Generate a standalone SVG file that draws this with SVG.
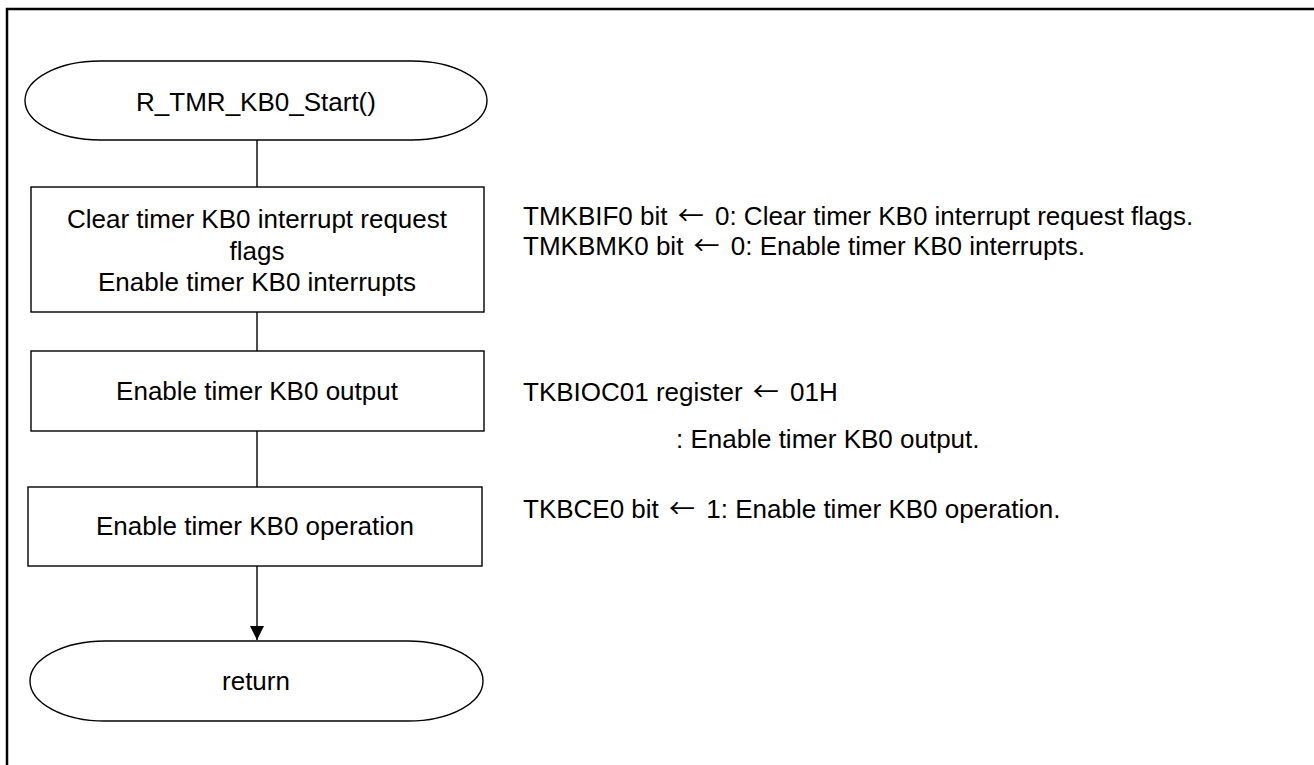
<svg xmlns="http://www.w3.org/2000/svg" width="1314" height="765" viewBox="0 0 1314 765">
<style>
  .shape { fill: #ffffff; stroke: #000000; stroke-width: 1.4; }
  .conn { fill: none; stroke: #000000; stroke-width: 1.4; }
  .t { font-family: "Liberation Sans", Arial, sans-serif; font-size: 26px; fill: #000000; }
  .c { text-anchor: middle; }
  .ar { font-family: "Noto Sans CJK JP", "DejaVu Sans", sans-serif; }
</style>
<defs>
  <marker id="arrow" markerWidth="14" markerHeight="15" refX="14" refY="7" orient="auto" markerUnits="userSpaceOnUse">
    <path d="M0,0 L14,7 L0,14 Z" fill="#000000"/>
  </marker>
</defs>
<rect x="0" y="0" width="1314" height="765" fill="#ffffff"/>
<path d="M7,765 V9 H1314" fill="none" stroke="#000000" stroke-width="2.5"/>

<g id="connectors">
  <line class="conn" x1="257" y1="140" x2="257" y2="187"/>
  <line class="conn" x1="257" y1="312" x2="257" y2="351"/>
  <line class="conn" x1="257" y1="431" x2="257" y2="487"/>
  <line class="conn" x1="257" y1="566" x2="257" y2="640" marker-end="url(#arrow)"/>
</g>

<g id="start">
  <rect class="shape" x="25" y="61" width="462" height="79" rx="75" ry="39.5"/>
  <text class="t c" x="256" y="111">R_TMR_KB0_Start()</text>
</g>

<g id="step1">
  <rect class="shape" x="31" y="187" width="453" height="125"/>
  <text class="t c" x="257" y="228">Clear timer KB0 interrupt request</text>
  <text class="t c" x="257" y="259.5">flags</text>
  <text class="t c" x="257" y="291">Enable timer KB0 interrupts</text>
</g>

<g id="step2">
  <rect class="shape" x="31" y="351" width="453" height="80"/>
  <text class="t c" x="257" y="400">Enable timer KB0 output</text>
</g>

<g id="step3">
  <rect class="shape" x="28" y="487" width="454" height="79"/>
  <text class="t c" x="255" y="535">Enable timer KB0 operation</text>
</g>

<g id="end">
  <rect class="shape" x="30" y="641" width="453" height="80" rx="75" ry="40"/>
  <text class="t c" x="256" y="690">return</text>
</g>

<g id="notes">
  <text class="t" x="523" y="225">TMKBIF0 bit <tspan class="ar" dx="3">←</tspan><tspan dx="4"> 0: Clear timer KB0 interrupt request flags.</tspan></text>
  <text class="t" x="523" y="255">TMKBMK0 bit <tspan class="ar" dx="3">←</tspan><tspan dx="4"> 0: Enable timer KB0 interrupts.</tspan></text>
  <text class="t" x="523" y="401">TKBIOC01 register <tspan class="ar" dx="3">←</tspan><tspan dx="4"> 01H</tspan></text>
  <text class="t" x="676" y="448">: Enable timer KB0 output.</text>
  <text class="t" x="523" y="518">TKBCE0 bit <tspan class="ar" dx="3">←</tspan><tspan dx="4"> 1: Enable timer KB0 operation.</tspan></text>
</g>
</svg>
